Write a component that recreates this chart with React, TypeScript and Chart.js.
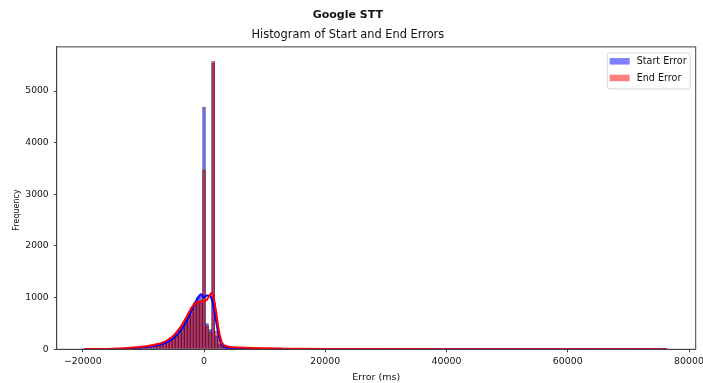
import React, { useEffect, useRef } from 'react';
import { Chart, registerables } from 'chart.js';

Chart.register(...registerables);

// ---- data ----
const BIN_START = -20000; // centre of first bin (ms)
const BIN_WIDTH = 500;    // ms

// counts for bins -20000 .. 10000
const startCore = [
  1, 1, 1, 2, 2, 2, 3, 3, 4, 4,
  5, 6, 8, 10, 12, 15, 18, 22, 27, 33,
  39, 46, 53, 61, 70, 82, 96, 115, 140, 175,
  220, 285, 365, 460, 570, 690, 810, 910, 1000, 1040,
  4690, 500, 380, 5540, 260, 110, 55, 40, 32, 26,
  22, 19, 16, 14, 12, 11, 10, 9, 8, 8,
  7,
];
const endCore = [
  2, 2, 3, 3, 4, 4, 5, 6, 6, 7,
  9, 11, 13, 16, 19, 23, 27, 32, 38, 45,
  52, 60, 68, 76, 86, 98, 112, 130, 160, 200,
  250, 320, 400, 490, 590, 700, 800, 870, 920, 900,
  3470, 450, 330, 5576, 350, 200, 110, 80, 62, 50,
  42, 36, 31, 27, 24, 22, 20, 18, 17, 16,
  15,
];
// counts for bins 10500 .. 76500
const startTail = [
  7, 6, 6, 6, 5, 5, 5, 5, 4, 4, 4, 4, 4, 3, 3, 3, 3, 3, 3,
  3, 3, 3, 2, 2, 2, 2, 2, 2, 2, 2, 2, 2, 2, 2, 1, 2, 2, 1, 2,
  1, 2, 1, 1, 2, 1, 1, 1, 1, 1, 1, 1, 1, 1, 1, 1, 1, 0, 1, 1,
  1, 1, 0, 1, 1, 1, 0, 1, 1, 0, 1, 1, 0, 1, 0, 1, 1, 0, 1, 0,
  1, 0, 1, 0, 1, 0, 1, 0, 0, 1, 0, 1, 0, 1, 0, 0, 1, 0, 1, 0,
  0, 1, 0, 1, 0, 0, 1, 0, 1, 0, 0, 1, 0, 0, 1, 0, 1, 0, 0, 1,
  0, 0, 1, 0, 0, 1, 0, 0, 1, 0, 0, 0, 1, 0,
];
const endTail = [
  14, 13, 12, 12, 11, 10, 10, 9, 9, 8, 8, 8, 7, 7, 7, 6, 6, 6, 6,
  5, 5, 5, 5, 5, 4, 4, 4, 4, 4, 4, 4, 3, 3, 3, 3, 3, 3, 3, 3,
  3, 3, 3, 2, 3, 2, 2, 2, 2, 2, 3, 2, 2, 2, 2, 2, 2, 2, 2, 2,
  2, 2, 2, 1, 2, 2, 1, 2, 1, 2, 1, 1, 2, 1, 1, 1, 2, 1, 1, 1,
  1, 1, 1, 1, 2, 1, 1, 1, 1, 1, 1, 1, 0, 1, 1, 1, 1, 0, 1, 1,
  1, 0, 1, 1, 1, 0, 1, 1, 0, 1, 1, 0, 1, 1, 0, 1, 0, 1, 1, 0,
  1, 0, 1, 0, 1, 1, 0, 1, 0, 1, 0, 1, 0, 1,
];

// KDE curves (scaled to counts)
const kdeX = [
  -19770, -17000, -15000, -13000, -11000, -10000, -9000, -8000, -7000, -6000,
  -5000, -4000, -3000, -2500, -2000, -1500, -1000, -500, 0, 500,
  1000, 1300, 1600, 2000, 2500, 3000, 3500, 4000, 5000, 6000,
  8000, 10000, 13000, 16000, 20000, 25000, 30000, 40000, 50000, 60000,
  70000, 76300,
];
const startKde = [
  2, 3, 6, 13, 28, 38, 53, 72, 100, 145,
  220, 340, 520, 640, 770, 890, 1000, 1068, 1010, 1040,
  1030, 960, 820, 540, 220, 80, 40, 28, 20, 16,
  11, 8, 6, 4, 3, 2, 2, 1, 1, 1,
  0, 0,
];
const endKde = [
  3, 6, 11, 21, 40, 52, 70, 92, 125, 180,
  270, 410, 600, 715, 815, 885, 920, 925, 930, 965,
  1060, 1095, 1000, 720, 330, 120, 70, 50, 40, 33,
  24, 18, 13, 10, 7, 5, 4, 3, 2, 2,
  1, 1,
];

const xTicks = [-20000, 0, 20000, 40000, 60000, 80000];
const yTicks = [0, 1000, 2000, 3000, 4000, 5000];
const X_MIN = -24300;
const X_MAX = 81100;
const Y_MAX = 5855;

const FONT = 'DejaVu Sans';
const TEXT = '#111';

const toBars = (counts: number[]) =>
  counts.map((c, i) => ({ x: BIN_START + i * BIN_WIDTH, y: c }));
const toLine = (ys: number[]) => ys.map((y, i) => ({ x: kdeX[i], y }));

const framePlugin = {
  id: 'frame',
  afterDatasetsDraw(chart: any) {
    const { ctx, chartArea } = chart;
    ctx.save();
    ctx.strokeStyle = '#444';
    ctx.lineWidth = 1;
    ctx.strokeRect(chartArea.left, chartArea.top, chartArea.right - chartArea.left, chartArea.bottom - chartArea.top);
    // y axis label
    ctx.translate(17, 210);
    ctx.rotate(-Math.PI / 2);
    ctx.font = `8px "${FONT}"`;
    ctx.fillStyle = TEXT;
    ctx.textAlign = 'center';
    ctx.textBaseline = 'middle';
    ctx.fillText('Frequency', 0, 0);
    ctx.restore();
  },
};

const legendPlugin = {
  id: 'boxLegend',
  afterDraw(chart: any) {
    const { ctx, chartArea } = chart;
    const items = chart.data.datasets.filter((d: any) => d.type === 'bar');
    const w = 83;
    const h = 36;
    const x = chartArea.right - 6 - w;
    const y = chartArea.top + 5.5;
    ctx.save();
    ctx.beginPath();
    if ((ctx as any).roundRect) (ctx as any).roundRect(x + 0.5, y + 0.5, w, h, 2);
    else ctx.rect(x + 0.5, y + 0.5, w, h);
    ctx.fillStyle = 'rgba(255,255,255,0.8)';
    ctx.fill();
    ctx.strokeStyle = '#d6d6d6';
    ctx.lineWidth = 1;
    ctx.stroke();
    ctx.font = `9.6px "${FONT}"`;
    ctx.textBaseline = 'middle';
    ctx.textAlign = 'left';
    items.forEach((d: any, i: number) => {
      const ry = y + 5.7 + i * 16.6;
      ctx.fillStyle = d.legendColor;
      ctx.fillRect(x + 3, ry, 20, 6.5);
      ctx.fillStyle = TEXT;
      ctx.fillText(d.label, x + 30, ry + 3.5);
    });
    ctx.restore();
  },
};

export default function App() {
  const ref = useRef<HTMLCanvasElement | null>(null);

  useEffect(() => {
    if (!ref.current) return;
    const startCounts = [...startCore, ...startTail];
    const endCounts = [...endCore, ...endTail];
    const chart = new Chart(ref.current, {
      type: 'bar',
      data: {
        datasets: [
          {
            type: 'bar',
            label: 'Start Error',
            data: toBars(startCounts) as any,
            backgroundColor: 'rgba(0,0,255,0.5)',
            borderColor: 'rgba(0,0,0,0.45)',
            borderWidth: 0.5,
            borderSkipped: 'bottom',
            barPercentage: 1,
            categoryPercentage: 1,
            grouped: false,
            order: 4,
            legendColor: 'rgba(0,0,255,0.5)',
          } as any,
          {
            type: 'bar',
            label: 'End Error',
            data: toBars(endCounts) as any,
            backgroundColor: 'rgba(255,0,0,0.5)',
            borderColor: 'rgba(0,0,0,0.45)',
            borderWidth: 0.5,
            borderSkipped: 'bottom',
            barPercentage: 1,
            categoryPercentage: 1,
            grouped: false,
            order: 3,
            legendColor: 'rgba(255,0,0,0.5)',
          } as any,
          {
            type: 'line',
            label: 'Start KDE',
            data: toLine(startKde) as any,
            borderColor: '#0000ff',
            borderWidth: 2,
            pointRadius: 0,
            fill: false,
            cubicInterpolationMode: 'monotone',
            order: 2,
          } as any,
          {
            type: 'line',
            label: 'End KDE',
            data: toLine(endKde) as any,
            borderColor: '#ff0000',
            borderWidth: 2,
            pointRadius: 0,
            fill: false,
            cubicInterpolationMode: 'monotone',
            order: 1,
          } as any,
        ],
      },
      options: {
        responsive: false,
        animation: false,
        devicePixelRatio: 1,
        layout: { padding: { left: 0, right: 7.3, top: 0, bottom: 0 } },
        plugins: {
          legend: { display: false },
          tooltip: { enabled: false },
          title: {
            display: true,
            text: 'Google STT',
            color: TEXT,
            font: { family: FONT, size: 11, weight: 'bold' },
            padding: { top: 9, bottom: 0 },
          },
          subtitle: {
            display: true,
            text: 'Histogram of Start and End Errors',
            color: TEXT,
            fullSize: true,
            font: { family: FONT, size: 11.4 },
            padding: { top: 6.5, bottom: 4.5 },
          } as any,
        },
        scales: {
          x: {
            type: 'linear',
            min: X_MIN,
            max: X_MAX,
            offset: false,
            grid: { display: true, drawOnChartArea: false, drawTicks: true, tickLength: 3, color: '#444', offset: false },
            border: { display: true, color: '#444' },
            ticks: {
              color: TEXT,
              font: { family: FONT, size: 9.4 },
              padding: 4,
              maxRotation: 0,
              autoSkip: false,
              callback: (v: any) => (Number(v) < 0 ? '\u2212' + Math.abs(Number(v)) : String(v)),
            },
            title: { display: true, text: 'Error (ms)', color: TEXT, font: { family: FONT, size: 9.5 }, padding: { top: 0, bottom: 0 } },
            afterBuildTicks: (s: any) => { s.ticks = xTicks.map((v) => ({ value: v })); },
            afterFit: (s: any) => { s.height = 33.7; s.paddingLeft = 0; s.paddingRight = 0; },
          } as any,
          y: {
            type: 'linear',
            min: 0,
            max: Y_MAX,
            grid: { display: true, drawOnChartArea: false, drawTicks: true, tickLength: 3, color: '#444' },
            border: { display: true, color: '#444' },
            ticks: {
              color: TEXT,
              font: { family: FONT, size: 9.2 },
              padding: 5,
              autoSkip: false,
              callback: (v: any) => String(v),
            },
            title: { display: false },
            afterBuildTicks: (s: any) => { s.ticks = yTicks.map((v) => ({ value: v })); },
            afterFit: (s: any) => { s.width = 56.7; s.paddingTop = 0; s.paddingBottom = 0; },
          } as any,
        },
      },
      plugins: [framePlugin, legendPlugin],
    });
    return () => chart.destroy();
  }, []);

  return (
    <div style={{ position: 'absolute', left: 0, top: 0, width: 703, height: 383, background: '#fff' }}>
      <canvas ref={ref} width={703} height={383} style={{ width: 703, height: 383 }} />
    </div>
  );
}
